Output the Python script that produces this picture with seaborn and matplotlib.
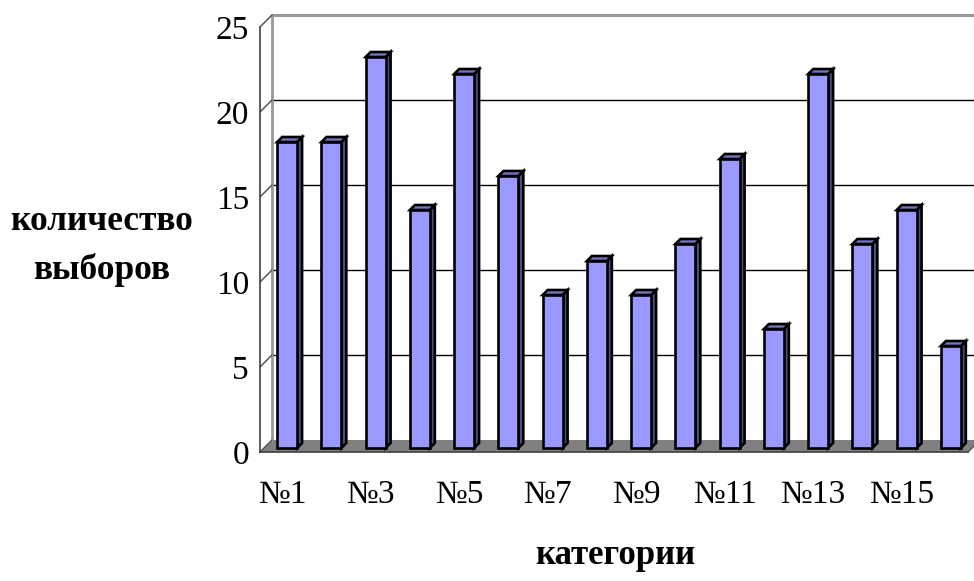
import pandas as pd
import matplotlib
matplotlib.use("Agg")
import matplotlib.pyplot as plt
from matplotlib.patches import Polygon
import seaborn as sns

# данные с картинки
categories = ["№1", "№2", "№3", "№4", "№5", "№6", "№7", "№8",
              "№9", "№10", "№11", "№12", "№13", "№14", "№15", "№16"]
values = [18, 18, 23, 14, 22, 16, 9, 11, 9, 12, 17, 7, 22, 12, 14, 6]
y_ticks = [0, 5, 10, 15, 20, 25]

df = pd.DataFrame({"категория": categories, "выборы": values})

sns.set_style("white")
plt.rcParams["font.family"] = ["Liberation Serif", "DejaVu Serif"]
plt.rcParams["text.color"] = "black"
plt.rcParams["xtick.color"] = "black"
plt.rcParams["ytick.color"] = "black"

fig = plt.figure(figsize=(9.74, 5.81), dpi=100)
W, H = 974, 581
ax = fig.add_axes([260 / W, (H - 452) / H, 708 / W, 425 / H])
ax.set_xlim(-0.5, len(categories) - 0.5)
ax.set_ylim(0, 25)

inv = ax.transData.inverted()


def shift(px, py):
    # сдвиг в пикселях -> сдвиг в единицах данных
    x0, y0 = inv.transform((0, 0))
    x1, y1 = inv.transform((px, py))
    return x1 - x0, y1 - y0


bx, by = shift(12, 12)
xl, xr = -0.5, len(categories) - 0.5

# пол
ax.add_patch(Polygon([(xl, 0), (xr, 0), (xr + bx, by), (xl + bx, by)],
                     closed=True, facecolor="#808080", edgecolor="none",
                     zorder=1, clip_on=False))
# задняя стенка и сетка
for v in y_ticks:
    if v == 0:
        continue
    if v == 25:
        ax.plot([xl + bx, xr + bx + 1], [v + by, v + by], color="#999999",
                lw=2.2, zorder=1, clip_on=False)
    else:
        ax.plot([xl + bx, xr + bx + 1], [v + by, v + by], color="black",
                lw=1, zorder=1, clip_on=False)
ax.plot([xl + bx, xl + bx], [by, 25 + by], color="#999999", lw=2,
        zorder=1, clip_on=False)
for v in y_ticks:
    ax.plot([xl, xl + bx], [v, v + by], color="#555555", lw=1.1,
            zorder=2, clip_on=False)
ax.plot([xr, xr + bx], [0, by], color="#555555", lw=1.1, zorder=2,
        clip_on=False)

sns.barplot(data=df, x="категория", y="выборы", color="#9999FF",
            width=0.45, edgecolor="black", linewidth=1.9, saturation=1,
            ax=ax, zorder=4)
ax.set_xlim(xl, xr)
ax.set_ylim(0, 25)

ox, oy = shift(5, 4)
dx, dy = shift(5, 5)
for p in list(ax.patches):
    if not hasattr(p, "get_width") or p.get_height() <= 0:
        continue
    x, w, h = p.get_x(), p.get_width(), p.get_height()
    p.set_x(x + ox)
    p.set_y(oy)
    p.set_clip_on(False)
    x0 = x + ox
    side = [(x0 + w, oy), (x0 + w + dx, oy + dy),
            (x0 + w + dx, h + oy + dy), (x0 + w, h + oy)]
    top = [(x0, h + oy), (x0 + w, h + oy),
           (x0 + w + dx, h + oy + dy), (x0 + dx, h + oy + dy)]
    ax.add_patch(Polygon(side, closed=True, facecolor="#4D4D80",
                         edgecolor="black", lw=1.9, zorder=3, clip_on=False))
    ax.add_patch(Polygon(top, closed=True, facecolor="#7373BF",
                         edgecolor="black", lw=1.9, zorder=3, clip_on=False))

for s in ["top", "right"]:
    ax.spines[s].set_visible(False)
for s in ["left", "bottom"]:
    ax.spines[s].set_color("#404040")
    ax.spines[s].set_linewidth(1.2)
    ax.spines[s].set_zorder(5)

ax.set_yticks(y_ticks)
ax.set_yticklabels([str(v) for v in y_ticks], fontsize=24)
ax.tick_params(axis="y", direction="out", length=7, width=1.2,
               color="#404040", pad=1)
ax.set_xticks([i - 0.5 for i in range(len(categories) + 1)])
ax.set_xticklabels([])
ax.tick_params(axis="x", which="major", direction="out", length=8,
               width=1.2, color="#404040")
ax.set_xticks(list(range(0, len(categories), 2)), minor=True)
ax.set_xticklabels(categories[::2], minor=True, fontsize=24)
ax.tick_params(axis="x", which="minor", length=0, pad=20)
ax.set_xlabel("")
ax.set_ylabel("")
ax.grid(False)

fig.text(102 / W, 1 - 222 / H, "количество", ha="center", va="center",
         fontsize=25.5, fontweight="bold")
fig.text(102 / W, 1 - 270 / H, "выборов", ha="center", va="center",
         fontsize=25.5, fontweight="bold")
fig.text(615 / W, 1 - 555 / H, "категории", ha="center", va="center",
         fontsize=25, fontweight="bold")

fig.savefig("out.png", dpi=100)
